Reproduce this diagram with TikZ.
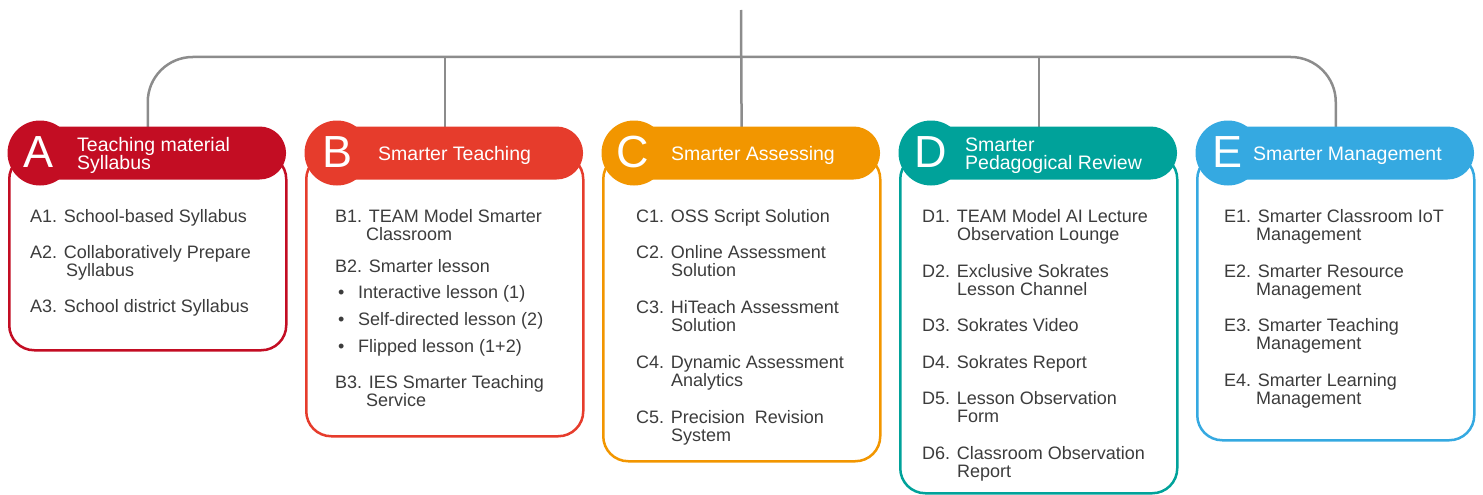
\documentclass[tikz,border=0pt]{standalone}
\usepackage{fontspec}
\setmainfont{Liberation Sans}
\definecolor{cA}{HTML}{C30D23}
\definecolor{cB}{HTML}{E63C2C}
\definecolor{cC}{HTML}{F29600}
\definecolor{cD}{HTML}{00A29A}
\definecolor{cE}{HTML}{35A9E1}
\definecolor{conn}{HTML}{8C8C8C}
\definecolor{txt}{HTML}{3C3C3C}
\tikzset{
 conline/.style={draw=conn, line width=2.5pt},
 panel/.style={draw=#1, line width=2.5pt, fill=white, rounded corners=25pt, minimum width=277pt, anchor=north west, inner sep=0pt},
 pill/.style={fill=#1, rounded corners=26.5pt, minimum width=262pt, minimum height=53pt, anchor=east, inner sep=0pt},
 badge/.style={circle, fill=#1, minimum size=65pt, inner sep=0pt},
 letter/.style={text=white, font=\fontsize{45}{45}\selectfont, anchor=base, inner sep=0pt},
 htext/.style={text=white, font=\fontsize{19.5}{18}\selectfont, anchor=base west, inner sep=0pt},
 itm/.style={text=txt, font=\fontsize{18}{18}\selectfont, anchor=base west, inner sep=0pt},
}
\begin{document}
\begin{tikzpicture}[x=1pt,y=-1pt]
\useasboundingbox (0,0) rectangle (1483,495);
% panels
\node[panel=cA, minimum height=196pt] (bA) at (8,153) {};
\node[panel=cB, minimum height=282pt] (bB) at (305,153) {};
\node[panel=cC, minimum height=307pt] (bC) at (602,153) {};
\node[panel=cD, minimum height=339pt] (bD) at (899,153) {};
\node[panel=cE, minimum height=286pt] (bE) at (1196,153) {};
% connectors
\coordinate (top) at (741,10);
\coordinate (j) at (741,57);
\draw[conline, rounded corners=45pt] (bA.north) |- (j) -| (bE.north);
\draw[conline] (top) -- (bC.north);
\draw[conline] (bB.north |- j) -- (bB.north);
\draw[conline] (bD.north |- j) -- (bD.north);
% pills
\node[pill=cA] (pA) at (286.25,153) {};
\node[pill=cB] (pB) at (583.25,153) {};
\node[pill=cC] (pC) at (880.25,153) {};
\node[pill=cD] (pD) at (1177.25,153) {};
\node[pill=cE] (pE) at (1474.25,153) {};
% badges
\node[badge=cA] (gA) at (40,153) {};
\node[badge=cB] (gB) at (337,153) {};
\node[badge=cC] (gC) at (634,153) {};
\node[badge=cD] (gD) at (931,153) {};
\node[badge=cE] (gE) at (1228,153) {};
\node[letter] (lA) at (39,167.5) {A};
\node[letter] (lB) at (338,167.5) {B};
\node[letter] (lC) at (633,167.5) {C};
\node[letter] (lD) at (931,167.5) {D};
\node[letter] (lE) at (1227,167.5) {E};
% header texts
\node[htext] (tA1) at (77,151) {Teaching material};
\node[htext] (tA2) at (77,169) {Syllabus};
\node[htext] (tB) at (378,160) {Smarter Teaching};
\node[htext] (tC) at (671,160) {Smarter Assessing};
\node[htext] (tD1) at (965,151) {Smarter};
\node[htext] (tD2) at (965,169) {Pedagogical Review};
\node[htext] (tE) at (1253,160) {Smarter Management};
% A items
\node[itm] (a1) at (30,222) {A1. School-based Syllabus};
\node[itm] (a2) at (30,258) {A2. Collaboratively Prepare};
\node[itm] (a2b) at (66,276) {Syllabus};
\node[itm] (a3) at (30,312) {A3. School district Syllabus};
% B items
\node[itm] (b1) at (335,222) {B1. TEAM Model Smarter};
\node[itm] (b1b) at (366,240) {Classroom};
\node[itm] (b2) at (335,272) {B2. Smarter lesson};
\node[itm] (bu1) at (338,298) {\textbullet};
\node[itm] (b21) at (358,298) {Interactive lesson (1)};
\node[itm] (bu2) at (338,325) {\textbullet};
\node[itm] (b22) at (358,325) {Self-directed lesson (2)};
\node[itm] (bu3) at (338,352) {\textbullet};
\node[itm] (b23) at (358,352) {Flipped lesson (1+2)};
\node[itm] (b3) at (335,388) {B3. IES Smarter Teaching};
\node[itm] (b3b) at (366,406) {Service};
% C items
\node[itm] (c1) at (636,222) {C1. OSS Script Solution};
\node[itm] (c2) at (636,258) {C2. Online Assessment};
\node[itm] (c2b) at (671,276) {Solution};
\node[itm] (c3) at (636,313) {C3. HiTeach Assessment};
\node[itm] (c3b) at (671,331) {Solution};
\node[itm] (c4) at (636,368) {C4. Dynamic Assessment};
\node[itm] (c4b) at (671,386) {Analytics};
\node[itm] (c5) at (636,423) {C5. Precision\ \ Revision};
\node[itm] (c5b) at (671,441) {System};
% D items
\node[itm] (d1) at (922,222) {D1. TEAM Model AI Lecture};
\node[itm] (d1b) at (957,240) {Observation Lounge};
\node[itm] (d2) at (922,277) {D2. Exclusive Sokrates};
\node[itm] (d2b) at (957,295) {Lesson Channel};
\node[itm] (d3) at (922,331) {D3. Sokrates Video};
\node[itm] (d4) at (922,368) {D4. Sokrates Report};
\node[itm] (d5) at (922,404) {D5. Lesson Observation};
\node[itm] (d5b) at (957,422) {Form};
\node[itm] (d6) at (922,459) {D6. Classroom Observation};
\node[itm] (d6b) at (957,477) {Report};
% E items
\node[itm] (e1) at (1224,222) {E1. Smarter Classroom IoT};
\node[itm] (e1b) at (1256,240) {Management};
\node[itm] (e2) at (1224,277) {E2. Smarter Resource};
\node[itm] (e2b) at (1256,295) {Management};
\node[itm] (e3) at (1224,331) {E3. Smarter Teaching};
\node[itm] (e3b) at (1256,349) {Management};
\node[itm] (e4) at (1224,386) {E4. Smarter Learning};
\node[itm] (e4b) at (1256,404) {Management};
\end{tikzpicture}
\end{document}
